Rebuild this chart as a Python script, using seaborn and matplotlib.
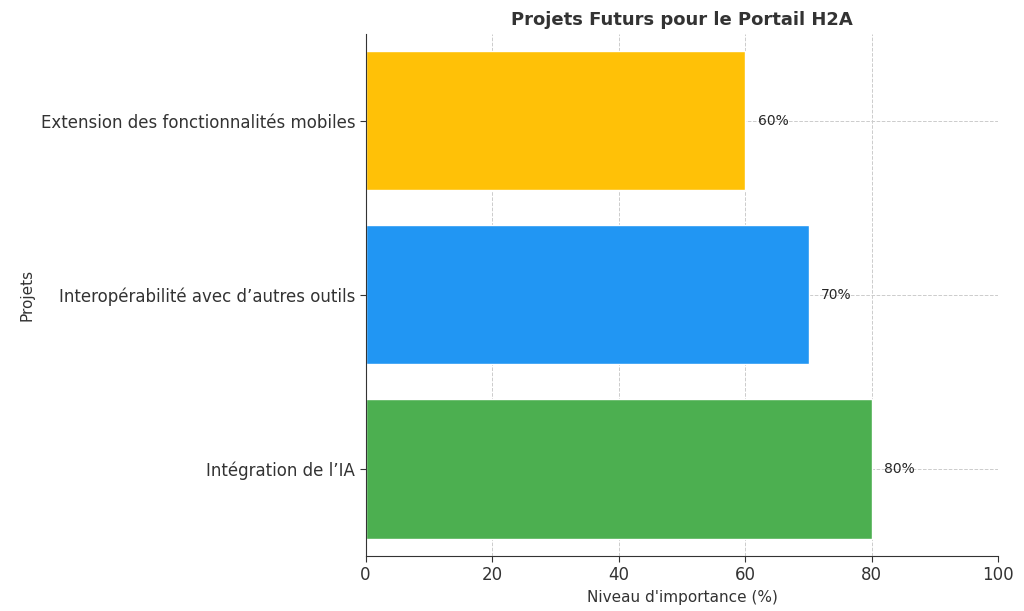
import matplotlib.pyplot as plt
import seaborn as sns
import pandas as pd

projets = ["Intégration de l’IA", "Interopérabilité avec d’autres outils", "Extension des fonctionnalités mobiles"]
valeurs = [80, 70, 60]
couleurs = ["#4caf50", "#2196f3", "#ffc107"]

sns.set_style("white")
plt.rcParams['font.family'] = ['DejaVu Sans']

df = pd.DataFrame({"Projets": projets, "Valeur": valeurs})
order = projets[::-1]

fig, ax = plt.subplots(figsize=(10.24, 6.11), dpi=100)
sns.barplot(data=df, y="Projets", x="Valeur", order=order, hue="Projets", hue_order=order,
            palette=dict(zip(projets, couleurs)), width=0.8, saturation=1, legend=False, ax=ax)
for i, p in enumerate(order):
    v = valeurs[projets.index(p)]
    ax.text(v + 2, i, f"{v}%", va="center", fontsize=10)

ax.set_xlim(0, 100)
ax.grid(True, linestyle="--", color="#cccccc", linewidth=0.7)
ax.set_axisbelow(True)
for s in ["top", "right"]:
    ax.spines[s].set_visible(False)
ax.spines["left"].set_color("#333333")
ax.spines["bottom"].set_color("#333333")
ax.tick_params(axis="both", labelsize=12, colors="#333333", length=4, left=True, bottom=True)
ax.set_xlabel("Niveau d'importance (%)", fontsize=11, color="#333333")
ax.set_ylabel("Projets", fontsize=11, color="#333333")
ax.set_title("Projets Futurs pour le Portail H2A", fontsize=13, fontweight="bold", color="#333333")
plt.subplots_adjust(left=0.357, right=0.975, top=0.945, bottom=0.09)
plt.savefig("out.png")
